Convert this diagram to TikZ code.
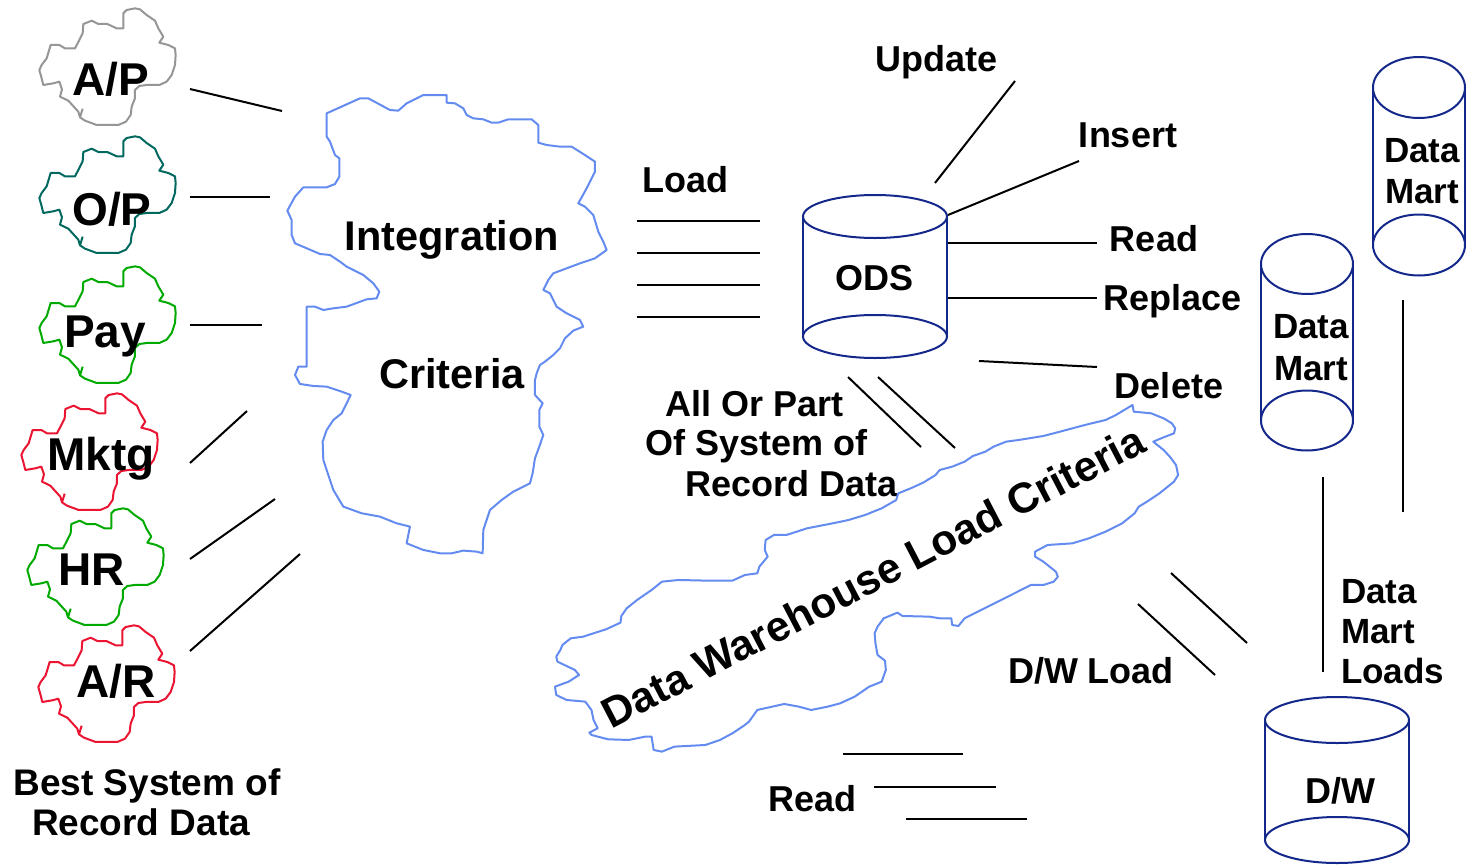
\documentclass[tikz,border=0pt]{standalone}
\usepackage{fontspec}
\setmainfont{Liberation Sans}
\definecolor{cblue}{RGB}{100,140,240}
\definecolor{navy}{RGB}{20,40,140}
\definecolor{cgray}{RGB}{150,150,150}
\definecolor{cteal}{RGB}{0,105,95}
\definecolor{cgreen}{RGB}{0,170,0}
\definecolor{cred}{RGB}{235,20,50}
\newcommand{\smallcloud}{(370,85)--(370,40)--(380,30)--(405,25)--(420,28)--(440,45)--(465,62)--(475,85)--(490,110)--(478,128)--(505,135)--(525,145)--(527,165)--(525,195)--(515,225)--(500,245)--(478,255)--(440,255)--(418,258)--(405,270)--(405,295)--(395,320)--(392,345)--(378,365)--(355,375)--(290,375)--(255,362)--(240,352)--(235,335)--(205,302)--(180,290)--(186,268)--(178,245)--(160,250)--(130,255)--(125,235)--(118,210)--(125,195)--(140,175)--(152,135)--(178,135)--(195,145)--(225,145)--(237,122)--(248,100)--(250,72)--(275,62)--(295,72)--(322,72)--(350,85)--cycle (240,352)--(248,326)}
\newcommand{\cylinder}[5]{%
  \draw[cyl] (#1,#2) ellipse[x radius=#4, y radius=#5];
  \draw[cyl] (#1,#3) ellipse[x radius=#4, y radius=#5];
  \draw[cyl] (#1-#4,#2) -- (#1-#4,#3) (#1+#4,#2) -- (#1+#4,#3);}
\begin{document}
\begin{tikzpicture}[x=1pt,y=-1pt,
  lbl/.style={font=\fontsize{36}{40}\selectfont\bfseries, inner sep=0pt, anchor=base},
  biglbl/.style={font=\fontsize{41.5}{46}\selectfont\bfseries, inner sep=0pt, anchor=base},
  srclbl/.style={font=\fontsize{46}{50}\selectfont\bfseries, inner sep=0pt, anchor=base},
  dmlbl/.style={font=\fontsize{35}{40}\selectfont\bfseries, inner sep=0pt, anchor=base},
  ln/.style={line width=2pt},
  cyl/.style={draw=navy, line width=2pt},
  cl/.style={line width=2pt, line join=round}]
\useasboundingbox (0,0) rectangle (1468,865);
\fill[white] (0,0) rectangle (1468,865);

% source clouds
\draw[cl, cgray] [shift={(0,0)}, scale=0.3333] \smallcloud;
\draw[cl, cteal] [shift={(0,128)}, scale=0.3333] \smallcloud;
\draw[cl, cgreen] [shift={(0,258)}, scale=0.3333] \smallcloud;
\draw[cl, cred] [shift={(-18,385)}, scale=0.3333] \smallcloud;
\draw[cl, cgreen] [shift={(-12,500)}, scale=0.3333] \smallcloud;
\draw[cl, cred] [shift={(-1,617)}, scale=0.3333] \smallcloud;

\node[srclbl] (ap) at (111,95) {A/P};
\node[srclbl] (op) at (112,225) {O/P};
\node[srclbl] (pay) at (105,347) {Pay};
\node[srclbl] (mktg) at (101,470) {Mktg};
\node[srclbl] (hr) at (92,585) {HR};
\node[srclbl] (ar) at (116,697) {A/R};

\node[font=\fontsize{37}{40}\selectfont\bfseries, inner sep=0pt, anchor=base] (best1) at (147,795) {Best System of};
\node[font=\fontsize{37}{40}\selectfont\bfseries, inner sep=0pt, anchor=base] (best2) at (141,835) {Record Data};

% connectors sources -> integration
\coordinate (ap1) at (190,89);  \coordinate (ap2) at (282,111);
\coordinate (op1) at (190,197); \coordinate (op2) at (270,197);
\coordinate (pa1) at (190,325); \coordinate (pa2) at (262,325);
\coordinate (mk1) at (190,463); \coordinate (mk2) at (247,411);
\coordinate (hr1) at (190,559); \coordinate (hr2) at (275,499);
\coordinate (ar1) at (190,651); \coordinate (ar2) at (300,554);
\draw[ln] (ap1) -- (ap2);
\draw[ln] (op1) -- (op2);
\draw[ln] (pa1) -- (pa2);
\draw[ln] (mk1) -- (mk2);
\draw[ln] (hr1) -- (hr2);
\draw[ln] (ar1) -- (ar2);

% integration criteria cloud
\draw[cl, cblue] [shift={(280,80)}, scale=0.3333]
(140,100)--(240,55)--(265,55)--(330,90)--(355,92)--(380,70)--(430,45)--(500,45)--(500,68)--(525,70)--(550,85)--(560,105)--(580,115)--(610,118)--(635,128)--(655,128)--(685,118)--(755,118)--(775,135)--(775,188)--(800,195)--(840,200)--(875,200)--(910,222)--(945,245)--(945,275)--(920,325)--(895,370)--(915,380)--(940,405)--(955,455)--(970,485)--(980,510)--(945,535)--(900,550)--(860,565)--(820,580)--(805,600)--(790,630)--(810,640)--(830,680)--(860,700)--(900,720)--(910,740)--(880,752)--(855,775)--(840,805)--(820,825)--(795,845)--(780,855)--(770,880)--(765,900)--(765,945)--(788,970)--(778,990)--(778,1040)--(790,1065)--(778,1100)--(765,1135)--(758,1180)--(750,1210)--(700,1235)--(665,1260)--(630,1290)--(610,1350)--(608,1420)--(590,1415)--(550,1412)--(515,1420)--(480,1420)--(430,1410)--(380,1390)--(390,1340)--(350,1330)--(300,1310)--(245,1300)--(190,1280)--(160,1230)--(130,1140)--(128,1085)--(140,1050)--(160,1020)--(185,1000)--(200,970)--(212,945)--(185,935)--(140,920)--(100,918)--(60,912)--(45,885)--(55,860)--(80,860)--(80,680)--(105,680)--(130,690)--(160,685)--(200,680)--(260,658)--(290,655)--(298,635)--(280,610)--(250,585)--(200,560)--(180,545)--(150,525)--(120,522)--(45,490)--(35,465)--(35,420)--(22,392)--(45,350)--(70,322)--(140,322)--(165,312)--(178,290)--(178,235)--(165,225)--(150,185)--(140,170)--cycle;
\node[biglbl] (integ) at (452,250) {Integration};
\node[biglbl] (crit) at (452,388) {Criteria};

% load lines
\node[lbl] (load) at (685,192) {Load};
\coordinate (l1a) at (637,221); \coordinate (l1b) at (760,221);
\coordinate (l2a) at (637,253); \coordinate (l2b) at (760,253);
\coordinate (l3a) at (637,285); \coordinate (l3b) at (760,285);
\coordinate (l4a) at (637,317); \coordinate (l4b) at (760,317);
\draw[ln] (l1a) -- (l1b);
\draw[ln] (l2a) -- (l2b);
\draw[ln] (l3a) -- (l3b);
\draw[ln] (l4a) -- (l4b);

% ODS cylinder
\cylinder{875}{216.5}{336.5}{72}{21.5}
\node[lbl] (ods) at (874,290) {ODS};

\node[lbl] (update) at (936.5,71) {Update};
\node[lbl] (insert) at (1128,147) {Insert};
\node[lbl] (read) at (1154,251) {Read};
\node[lbl] (replace) at (1172.5,310) {Replace};
\node[lbl] (delete) at (1169,398) {Delete};
\coordinate (u1) at (1015,81);  \coordinate (u2) at (935,183);
\coordinate (i1) at (1079,161); \coordinate (i2) at (948,215);
\coordinate (r1) at (948,243);  \coordinate (r2) at (1097,243);
\coordinate (p1) at (948,298);  \coordinate (p2) at (1097,298);
\coordinate (d1) at (979,361);  \coordinate (d2) at (1097,367);
\draw[ln] (u1) -- (u2);
\draw[ln] (i1) -- (i2);
\draw[ln] (r1) -- (r2);
\draw[ln] (p1) -- (p2);
\draw[ln] (d1) -- (d2);

% all or part
\node[lbl, anchor=base west] (aop1) at (665,416) {All Or Part};
\node[lbl, anchor=base west] (aop2) at (645,455) {Of System of};
\node[lbl, anchor=base west] (aop3) at (685,496) {Record Data};
\coordinate (o1a) at (848,377); \coordinate (o1b) at (921,447);
\coordinate (o2a) at (878,377); \coordinate (o2b) at (955,448);
\draw[ln] (o1a) -- (o1b);
\draw[ln] (o2a) -- (o2b);

% data warehouse load criteria cloud
\draw[cl, cblue] [shift={(550,400)}, xscale=0.41459, yscale=0.3333]
(1405,15)--(1408,35)--(1450,40)--(1480,55)--(1500,70)--(1508,85)--(1505,100)--(1480,112)--(1455,125)--(1465,135)--(1480,150)--(1495,170)--(1510,195)--(1515,225)--(1505,245)--(1490,260)--(1470,280)--(1440,305)--(1420,320)--(1410,340)--(1380,370)--(1340,395)--(1300,415)--(1260,430)--(1200,435)--(1170,455)--(1170,470)--(1190,485)--(1205,500)--(1220,515)--(1225,530)--(1215,545)--(1190,555)--(1160,555)--(1120,580)--(1080,605)--(1040,630)--(1000,655)--(985,678)--(970,675)--(968,655)--(940,655)--(915,650)--(850,648)--(838,638)--(805,655)--(790,680)--(783,700)--(785,730)--(790,765)--(808,782)--(810,810)--(800,845)--(770,860)--(735,890)--(700,910)--(670,920)--(630,930)--(600,920)--(565,912)--(500,930)--(480,965)--(470,975)--(440,1000)--(410,1020)--(375,1035)--(300,1040)--(270,1055)--(250,1050)--(245,1010)--(230,1010)--(190,1020)--(140,1018)--(100,1005)--(95,998)--(115,985)--(105,960)--(100,930)--(85,905)--(40,900)--(15,885)--(12,860)--(45,845)--(70,825)--(60,810)--(18,785)--(15,770)--(25,750)--(30,735)--(50,715)--(80,710)--(135,688)--(170,668)--(172,648)--(185,625)--(210,600)--(245,570)--(270,545)--(310,540)--(380,542)--(440,542)--(470,525)--(500,520)--(505,500)--(525,470)--(518,450)--(520,420)--(540,405)--(570,405)--(620,385)--(690,368)--(720,360)--(760,345)--(800,325)--(835,300)--(840,280)--(870,265)--(900,248)--(930,225)--(940,210)--(970,200)--(1000,185)--(1020,168)--(1050,155)--(1070,140)--(1100,125)--(1130,120)--(1190,108)--(1230,95)--(1290,75)--(1340,60)--(1365,45)--cycle;
\node[font=\fontsize{42.5}{46}\selectfont\bfseries, inner sep=0pt, anchor=base, rotate=27.5] (dwlc) at (880,590) {Data Warehouse Load Criteria};

% D/W load
\node[lbl] (dwload) at (1091,683) {D/W Load};
\coordinate (w1a) at (1171,573); \coordinate (w1b) at (1247,643);
\coordinate (w2a) at (1138,604); \coordinate (w2b) at (1215,675);
\draw[ln] (w1a) -- (w1b);
\draw[ln] (w2a) -- (w2b);

% read lines bottom
\node[lbl] (read2) at (812.5,811) {Read};
\coordinate (b1a) at (843,754); \coordinate (b1b) at (963,754);
\coordinate (b2a) at (874,787); \coordinate (b2b) at (996,787);
\coordinate (b3a) at (906,819); \coordinate (b3b) at (1027,819);
\draw[ln] (b1a) -- (b1b);
\draw[ln] (b2a) -- (b2b);
\draw[ln] (b3a) -- (b3b);

% data marts
\cylinder{1419}{87.5}{245}{46}{30.5}
\node[dmlbl] (dm1a) at (1422,162) {Data};
\node[dmlbl] (dm1b) at (1422,203) {Mart};
\cylinder{1307}{264}{420.5}{46}{30}
\node[dmlbl] (dm2a) at (1311,338) {Data};
\node[dmlbl] (dm2b) at (1311,380) {Mart};

% D/W cylinder
\cylinder{1337}{720}{840}{72}{23}
\node[lbl] (dw) at (1340,803) {D/W};

\coordinate (v1a) at (1403,300); \coordinate (v1b) at (1403,512);
\coordinate (v2a) at (1323,477); \coordinate (v2b) at (1323,672);
\draw[ln] (v1a) -- (v1b);
\draw[ln] (v2a) -- (v2b);

\node[dmlbl, anchor=base west] (dml1) at (1341,603) {Data};
\node[dmlbl, anchor=base west] (dml2) at (1341,643) {Mart};
\node[dmlbl, anchor=base west] (dml3) at (1341,683) {Loads};
\end{tikzpicture}
\end{document}
